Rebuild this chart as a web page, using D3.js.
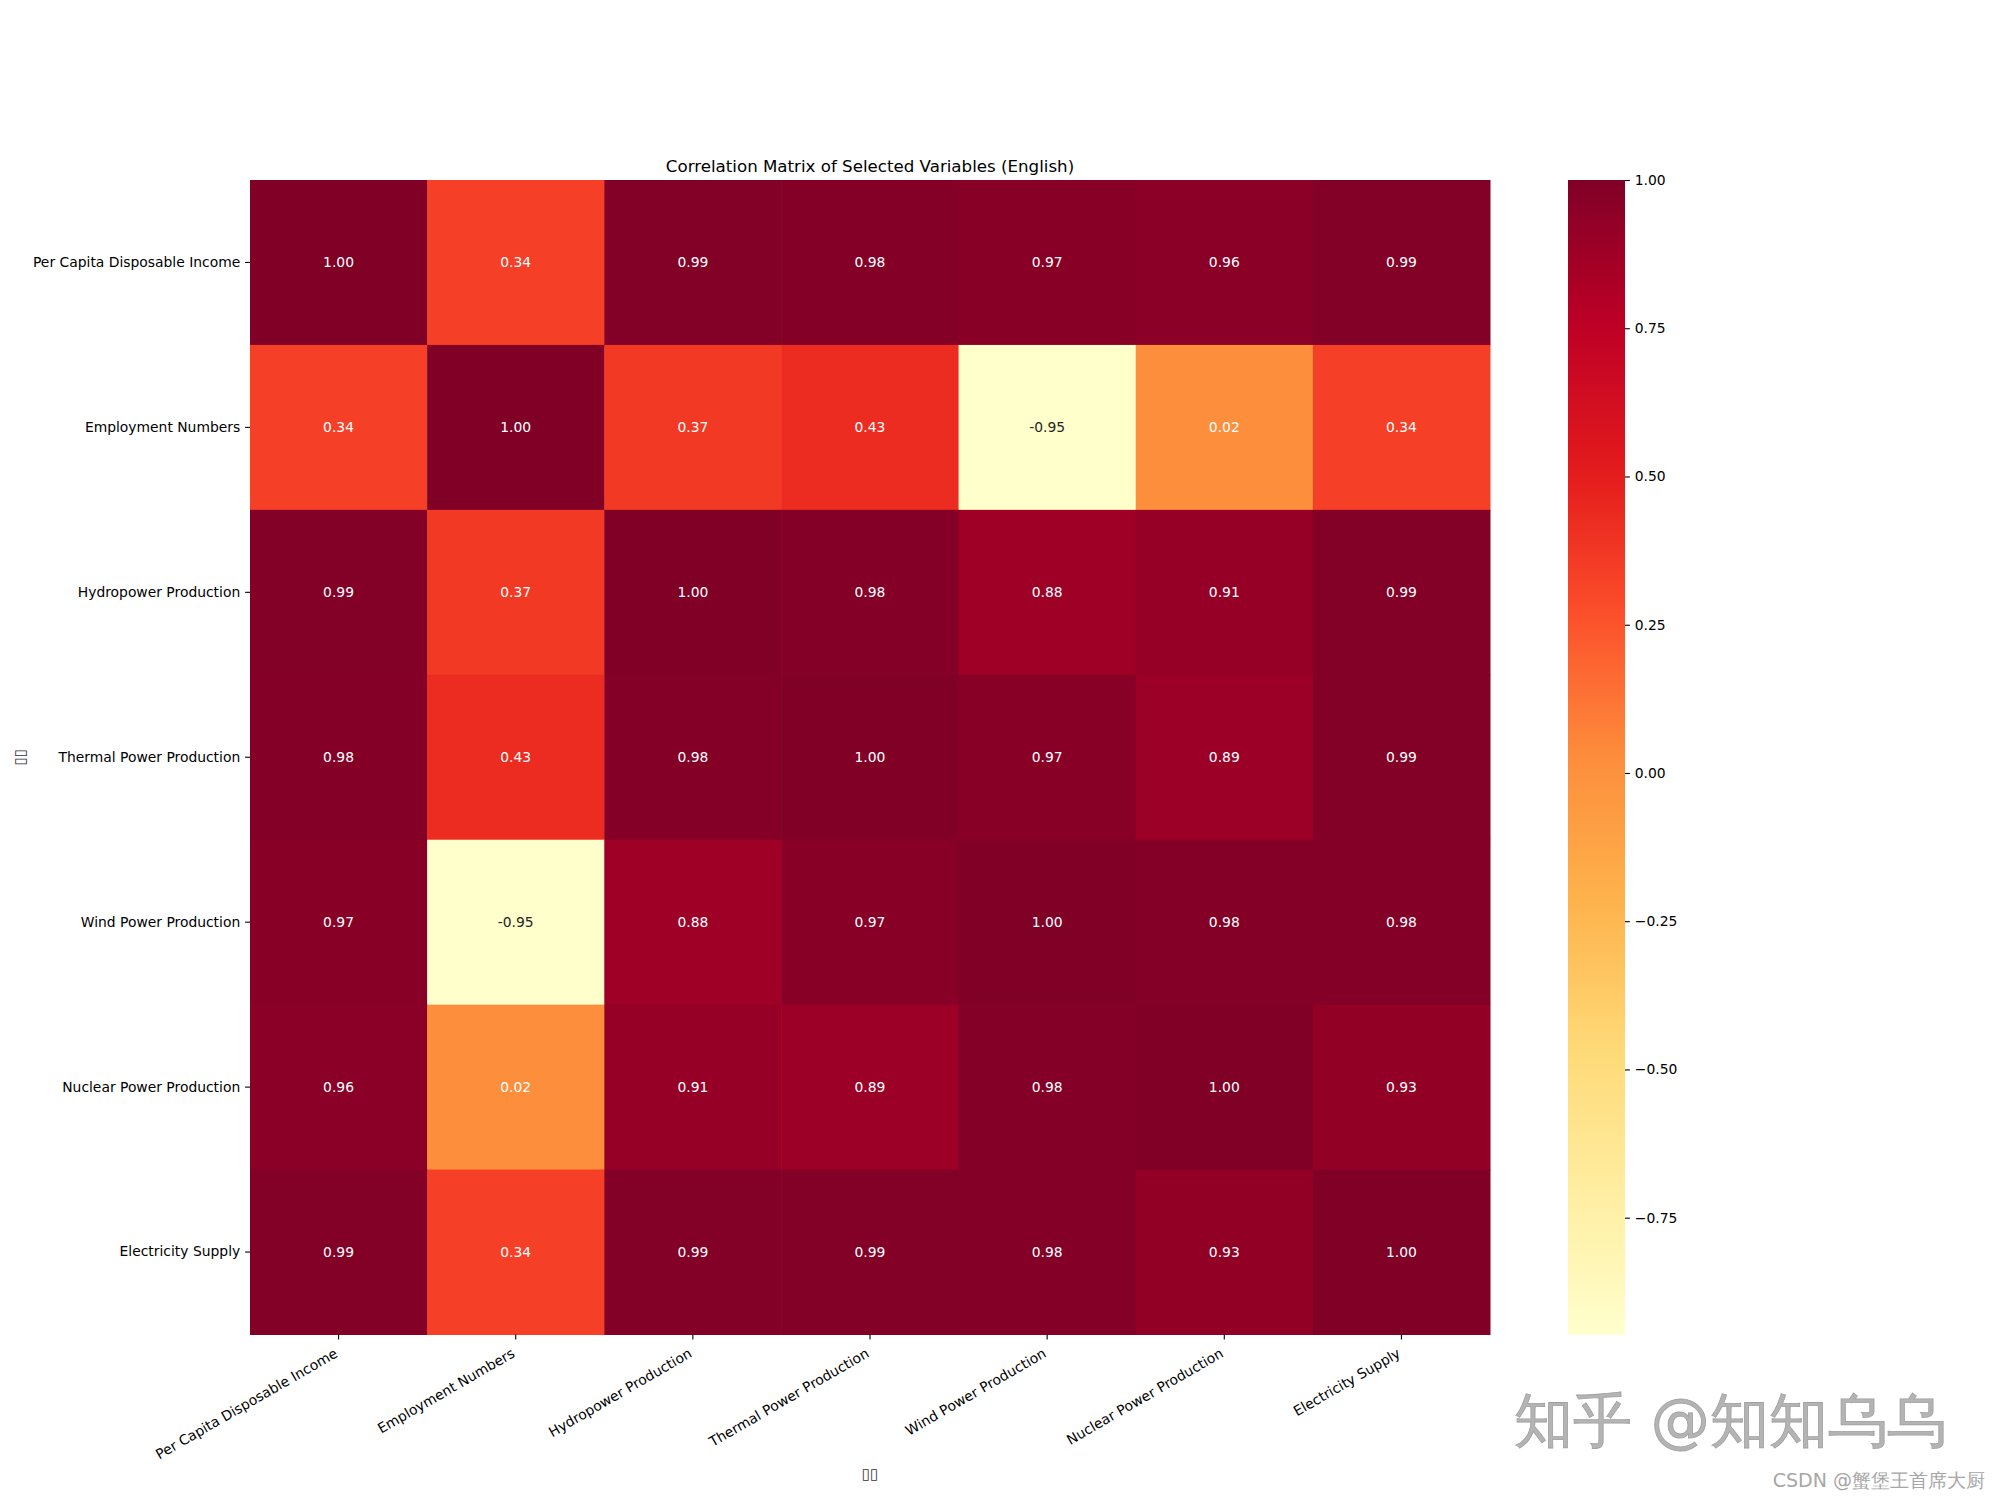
<!DOCTYPE html>
<html>
<head>
<meta charset="utf-8">
<script src="https://cdn.jsdelivr.net/npm/d3@7"></script>
<style>
  html, body { margin: 0; padding: 0; background: #fff; }
  svg text { font-family: "DejaVu Sans", sans-serif; }
</style>
</head>
<body>
<svg id="chart" width="2000" height="1500"></svg>
<script>
// ---- data ----
const variables = [
  "Per Capita Disposable Income",
  "Employment Numbers",
  "Hydropower Production",
  "Thermal Power Production",
  "Wind Power Production",
  "Nuclear Power Production",
  "Electricity Supply"
];
const rowIncome     = [1.00, 0.34, 0.99, 0.98, 0.97, 0.96, 0.99];
const rowEmployment = [0.34, 1.00, 0.37, 0.43, -0.947, 0.02, 0.34];
const rowHydro      = [0.99, 0.37, 1.00, 0.98, 0.88, 0.91, 0.99];
const rowThermal    = [0.98, 0.43, 0.98, 1.00, 0.97, 0.89, 0.99];
const rowWind       = [0.97, -0.947, 0.88, 0.97, 1.00, 0.98, 0.98];
const rowNuclear    = [0.96, 0.02, 0.91, 0.89, 0.98, 1.00, 0.93];
const rowSupply     = [0.99, 0.34, 0.99, 0.99, 0.98, 0.93, 1.00];
const matrix = [rowIncome, rowEmployment, rowHydro, rowThermal, rowWind, rowNuclear, rowSupply];
const colorbarTicks = [1.00, 0.75, 0.50, 0.25, 0.00, -0.25, -0.50, -0.75];
const titleText = "Correlation Matrix of Selected Variables (English)";
const xLabelText = "\u25AF\u25AF";
const yLabelText = "\u25AF\u25AF";
const ylOrRd = ["#ffffcc","#ffeda0","#fed976","#feb24c","#fd8d3c","#fc4e2a","#e31a1c","#bd0026","#800026"];

// ---- layout ----
const svg = d3.select("#chart");
const L = 250, R = 1490, T = 180, B = 1334.5;
const FS = 13.89;

const vmin = d3.min(matrix.flat()), vmax = d3.max(matrix.flat());
const color = d3.scaleLinear()
  .domain(ylOrRd.map((_, i) => vmin + (vmax - vmin) * i / (ylOrRd.length - 1)))
  .range(ylOrRd)
  .interpolate(d3.interpolateRgb)
  .clamp(true);

const x = d3.scaleBand().domain(variables).range([L, R]);
const y = d3.scaleBand().domain(variables).range([T, B]);

// cells
const cells = [];
matrix.forEach((row, i) => row.forEach((v, j) => cells.push({r: variables[i], c: variables[j], v})));

svg.append("g").selectAll("rect").data(cells).join("rect")
  .attr("x", d => x(d.c)).attr("y", d => y(d.r))
  .attr("width", x.bandwidth() + 0.5).attr("height", y.bandwidth() + 0.5)
  .attr("fill", d => color(d.v));

function lum(c) {
  const rgb = d3.rgb(c);
  const f = u => { u /= 255; return u <= 0.03928 ? u / 12.92 : Math.pow((u + 0.055) / 1.055, 2.4); };
  return 0.2126 * f(rgb.r) + 0.7152 * f(rgb.g) + 0.0722 * f(rgb.b);
}

svg.append("g").selectAll("text").data(cells).join("text")
  .attr("x", d => x(d.c) + x.bandwidth() / 2)
  .attr("y", d => y(d.r) + y.bandwidth() / 2)
  .attr("text-anchor", "middle")
  .attr("dominant-baseline", "central")
  .attr("font-size", FS)
  .attr("fill", d => lum(color(d.v)) > 0.408 ? "#262626" : "#ffffff")
  .text(d => d3.format(".2f")(d.v).replace("\u2212", "-"));

// axes
const xAxis = svg.append("g").attr("transform", `translate(0,${B})`)
  .call(d3.axisBottom(x).tickSize(4.9).tickPadding(0));
xAxis.select(".domain").remove();
xAxis.selectAll(".tick line").attr("stroke", "#000").attr("stroke-width", 1.1);
xAxis.selectAll(".tick text")
  .attr("font-size", FS).attr("font-family", "DejaVu Sans").attr("fill", "#000")
  .attr("text-anchor", "end")
  .attr("dy", "0.95em")
  .attr("transform", "translate(-9,6) rotate(-30)");

const yAxis = svg.append("g").attr("transform", `translate(${L},0)`)
  .call(d3.axisLeft(y).tickSize(4.9).tickPadding(4.9));
yAxis.select(".domain").remove();
yAxis.selectAll(".tick line").attr("stroke", "#000").attr("stroke-width", 1.1);
yAxis.selectAll(".tick text")
  .attr("font-size", FS).attr("font-family", "DejaVu Sans").attr("fill", "#000");

// title
svg.append("text").attr("x", (L + R) / 2).attr("y", 172)
  .attr("text-anchor", "middle").attr("font-size", 16.67).attr("fill", "#000")
  .text(titleText);

// axis labels
svg.append("text").attr("x", (L + R) / 2).attr("y", 1479)
  .attr("text-anchor", "middle").attr("font-size", 15).attr("fill", "#333")
  .text(xLabelText);
svg.append("text").attr("transform", `translate(25,${(T + B) / 2}) rotate(-90)`)
  .attr("text-anchor", "middle").attr("font-size", 15).attr("fill", "#333")
  .text(yLabelText);

// colorbar
const cbX = 1568, cbW = 57;
const cbScale = d3.scaleLinear().domain([vmin, vmax]).range([B, T]);
const defs = svg.append("defs");
const grad = defs.append("linearGradient").attr("id", "cbgrad")
  .attr("x1", 0).attr("y1", 1).attr("x2", 0).attr("y2", 0);
d3.range(0, 1.0001, 0.02).forEach(t => {
  grad.append("stop").attr("offset", t).attr("stop-color", color(vmin + (vmax - vmin) * t));
});
svg.append("rect").attr("x", cbX).attr("y", T).attr("width", cbW).attr("height", B - T)
  .attr("fill", "url(#cbgrad)");
const cbAxis = svg.append("g").attr("transform", `translate(${cbX + cbW},0)`)
  .call(d3.axisRight(cbScale).tickValues(colorbarTicks).tickSize(4.9).tickPadding(4.9)
    .tickFormat(d => d3.format(".2f")(d)));
cbAxis.select(".domain").remove();
cbAxis.selectAll(".tick line").attr("stroke", "#000").attr("stroke-width", 1.1);
cbAxis.selectAll(".tick text")
  .attr("font-size", FS).attr("font-family", "DejaVu Sans").attr("fill", "#000");

// watermarks
svg.append("text").attr("x", 1514).attr("y", 1441)
  .attr("font-family", "Noto Sans CJK SC").attr("font-size", 59)
  .attr("fill", "#b4b4b4").attr("stroke", "#a0a0a0").attr("stroke-width", 0.8)
  .text("知乎 @知知乌乌");
svg.append("text").attr("x", 1985).attr("y", 1487)
  .attr("text-anchor", "end")
  .attr("font-family", "Noto Sans CJK SC").attr("font-size", 19)
  .attr("fill", "#a6a6a6")
  .text("CSDN @蟹堡王首席大厨");
</script>
</body>
</html>
